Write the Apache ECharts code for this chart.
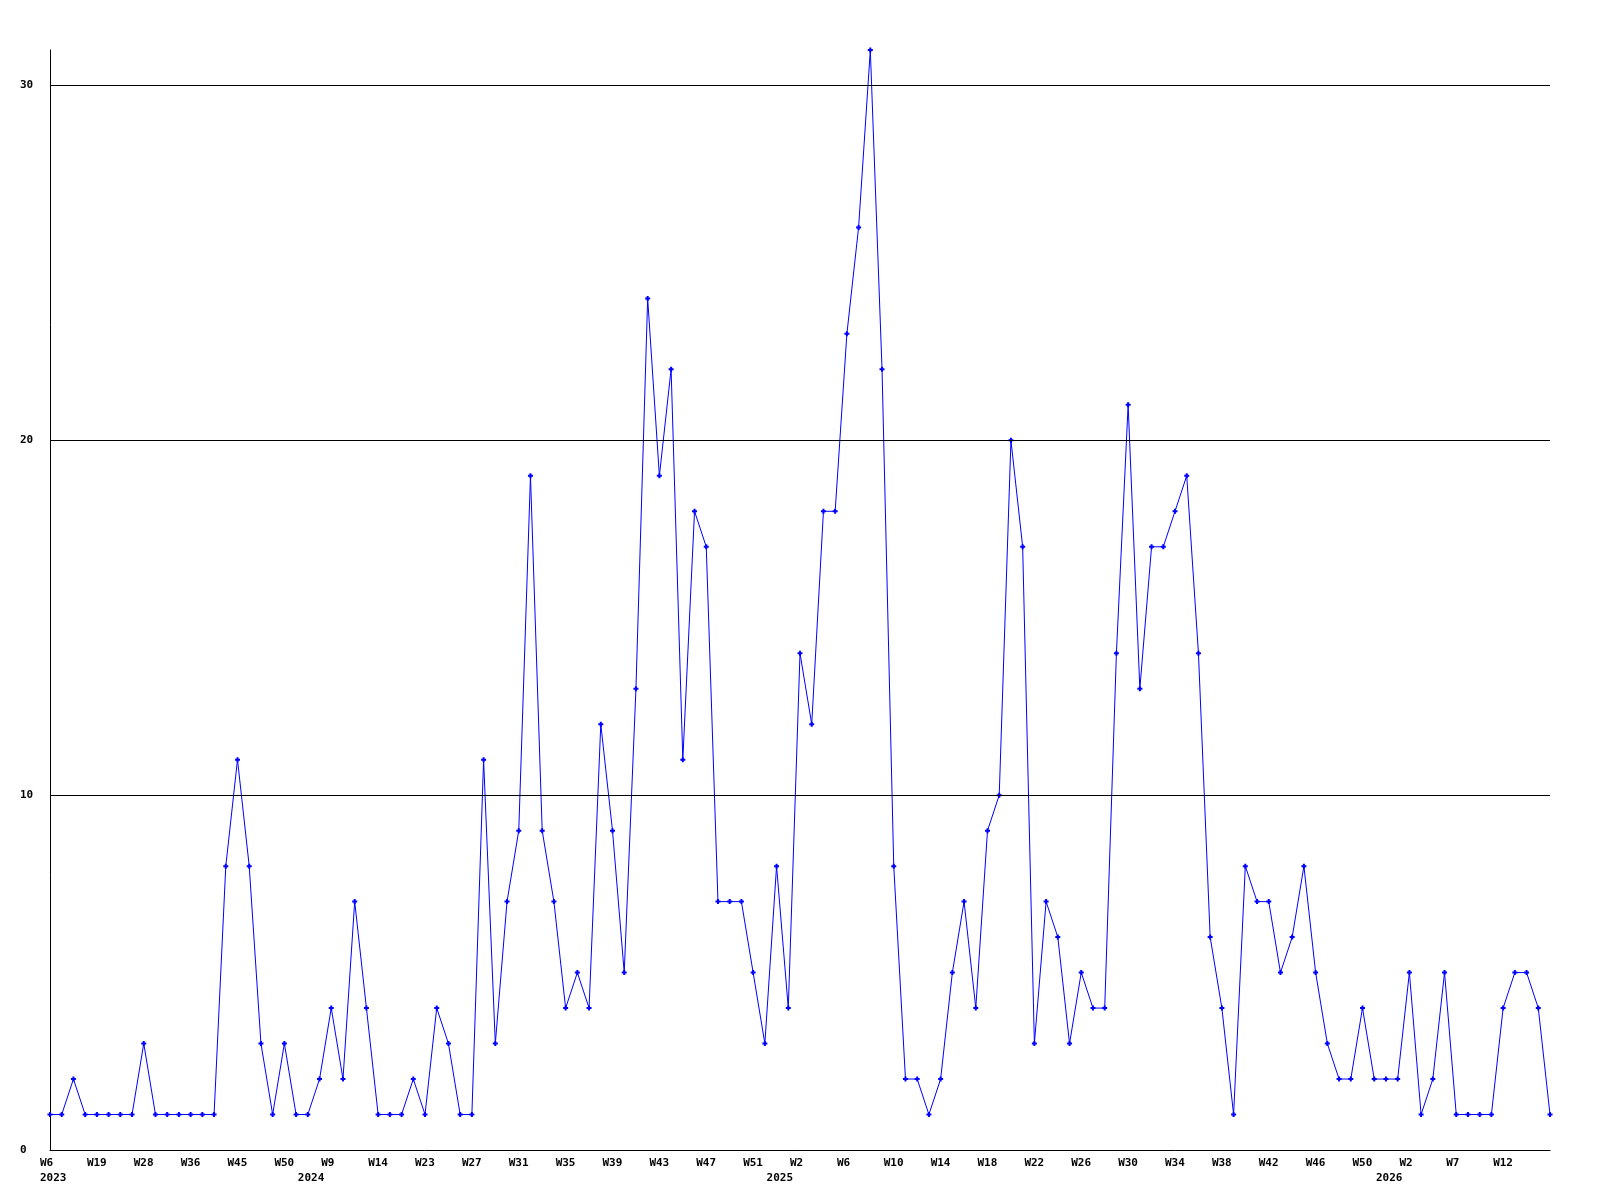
<!DOCTYPE html>
<html>
<head>
<meta charset="utf-8">
<title>Weekly count</title>
<script src="https://cdn.jsdelivr.net/npm/echarts@6/dist/echarts.min.js"></script>
<style>
    html, body { margin: 0; padding: 0; background: #fff; }
    #chart { width: 1600px; height: 1200px; }
</style>
</head>
<body>
<div id="chart"></div>
<script>
    // categories: one per week that has data
    var weeks = [
        '2023-W6', '2023-W9', '2023-W11', '2023-W15', '2023-W19', '2023-W21', '2023-W23', '2023-W26',
        '2023-W28', '2023-W30', '2023-W32', '2023-W34', '2023-W36', '2023-W38', '2023-W40', '2023-W43',
        '2023-W45', '2023-W46', '2023-W47', '2023-W48', '2023-W50', '2023-W52',
        '2024-W1', '2024-W4', '2024-W9', '2024-W11', '2024-W12', '2024-W13', '2024-W14', '2024-W16',
        '2024-W18', '2024-W20', '2024-W23', '2024-W24', '2024-W25', '2024-W26', '2024-W27', '2024-W28',
        '2024-W29', '2024-W30', '2024-W31', '2024-W32', '2024-W33', '2024-W34', '2024-W35', '2024-W36',
        '2024-W37', '2024-W38', '2024-W39', '2024-W40', '2024-W41', '2024-W42', '2024-W43', '2024-W44',
        '2024-W45', '2024-W46', '2024-W47', '2024-W48', '2024-W49', '2024-W50', '2024-W51', '2024-W52',
        '2025-W0', '2025-W1', '2025-W2', '2025-W3', '2025-W4', '2025-W5', '2025-W6', '2025-W7',
        '2025-W8', '2025-W9', '2025-W10', '2025-W11', '2025-W12', '2025-W13', '2025-W14', '2025-W15',
        '2025-W16', '2025-W17', '2025-W18', '2025-W19', '2025-W20', '2025-W21', '2025-W22', '2025-W23',
        '2025-W24', '2025-W25', '2025-W26', '2025-W27', '2025-W28', '2025-W29', '2025-W30', '2025-W31',
        '2025-W32', '2025-W33', '2025-W34', '2025-W35', '2025-W36', '2025-W37', '2025-W38', '2025-W39',
        '2025-W40', '2025-W41', '2025-W42', '2025-W43', '2025-W44', '2025-W45', '2025-W46', '2025-W47',
        '2025-W48', '2025-W49', '2025-W50', '2025-W51',
        '2026-W0', '2026-W1', '2026-W2', '2026-W3', '2026-W5', '2026-W6', '2026-W7', '2026-W8',
        '2026-W10', '2026-W11', '2026-W12', '2026-W13', '2026-W14', '2026-W15', '2026-W16'
    ];

    var counts = [
        1, 1, 2, 1, 1, 1, 1, 1, 3, 1, 1, 1, 1, 1, 1, 8,
        11, 8, 3, 1, 3, 1, 1, 2, 4, 2, 7, 4, 1, 1, 1, 2,
        1, 4, 3, 1, 1, 11, 3, 7, 9, 19, 9, 7, 4, 5, 4, 12,
        9, 5, 13, 24, 19, 22, 11, 18, 17, 7, 7, 7, 5, 3, 8, 4,
        14, 12, 18, 18, 23, 26, 31, 22, 8, 2, 2, 1, 2, 5, 7, 4,
        9, 10, 20, 17, 3, 7, 6, 3, 5, 4, 4, 14, 21, 13, 17, 17,
        18, 19, 14, 6, 4, 1, 8, 7, 7, 5, 6, 8, 5, 3, 2, 2,
        4, 2, 2, 2, 5, 1, 2, 5, 1, 1, 1, 1, 4, 5, 5, 4,
        1
    ];

    // year captions under the week labels
    var yearIndex = [0, 22, 62, 114];
    var yearLabels = ['2023', '2024', '2025', '2026'];

    var yTicks = [10, 20, 30];
    var labelEvery = 4;

    var chart = echarts.init(document.getElementById('chart'));

    chart.setOption({
        animation: false,
        backgroundColor: '#fff',
        textStyle: {
            fontFamily: 'DejaVu Sans Mono',
            fontWeight: 'bold',
            fontSize: 11,
            color: '#000'
        },
        grid: {
            left: 50,
            right: 50,
            top: 50,
            bottom: 50,
            containLabel: false
        },
        xAxis: {
            type: 'category',
            data: weeks,
            boundaryGap: false,
            axisLine: { lineStyle: { color: '#000', width: 1 } },
            axisTick: { show: false },
            splitLine: { show: false },
            axisLabel: {
                interval: 0,
                margin: 6,
                formatter: function (value, index) {
                    var k = yearIndex.indexOf(index);
                    var shown = index % labelEvery === 0 && index < weeks.length - 1;
                    var week = shown ? value.split('-')[1] : '';
                    if (k < 0) {
                        return week ? '{w|' + week + '}' : '';
                    }
                    return '{w|' + (week || ' ') + '}\n{w|' + yearLabels[k] + '}';
                },
                rich: {
                    w: {
                        width: 20,
                        align: 'left',
                        lineHeight: 15,
                        fontFamily: 'DejaVu Sans Mono',
                        fontWeight: 'bold',
                        fontSize: 11,
                        color: '#000'
                    }
                }
            }
        },
        yAxis: {
            type: 'value',
            min: 0,
            max: 31,
            interval: 10,
            axisLine: { show: true, lineStyle: { color: '#000', width: 1 } },
            axisTick: { show: false },
            splitLine: { show: false },
            axisLabel: {
                align: 'left',
                margin: 30,
                fontFamily: 'DejaVu Sans Mono',
                fontWeight: 'bold',
                fontSize: 11,
                color: '#000',
                formatter: function (v) {
                    return v % 10 === 0 ? v : '';
                }
            }
        },
        series: [{
            type: 'line',
            data: counts,
            symbol: 'path://M1.5,0h2v1.5h1.5v2h-1.5v1.5h-2v-1.5h-1.5v-2h1.5z',
            symbolSize: 5,
            showAllSymbol: true,
            clip: false,
            itemStyle: { color: '#0000ff' },
            lineStyle: { color: '#0000ff', width: 1 },
            markLine: {
                silent: true,
                symbol: 'none',
                label: { show: false },
                lineStyle: { color: '#000', width: 1, type: 'solid' },
                data: yTicks.map(function (v) { return { yAxis: v }; })
            },
            z: 3
        }]
    });
</script>
</body>
</html>
